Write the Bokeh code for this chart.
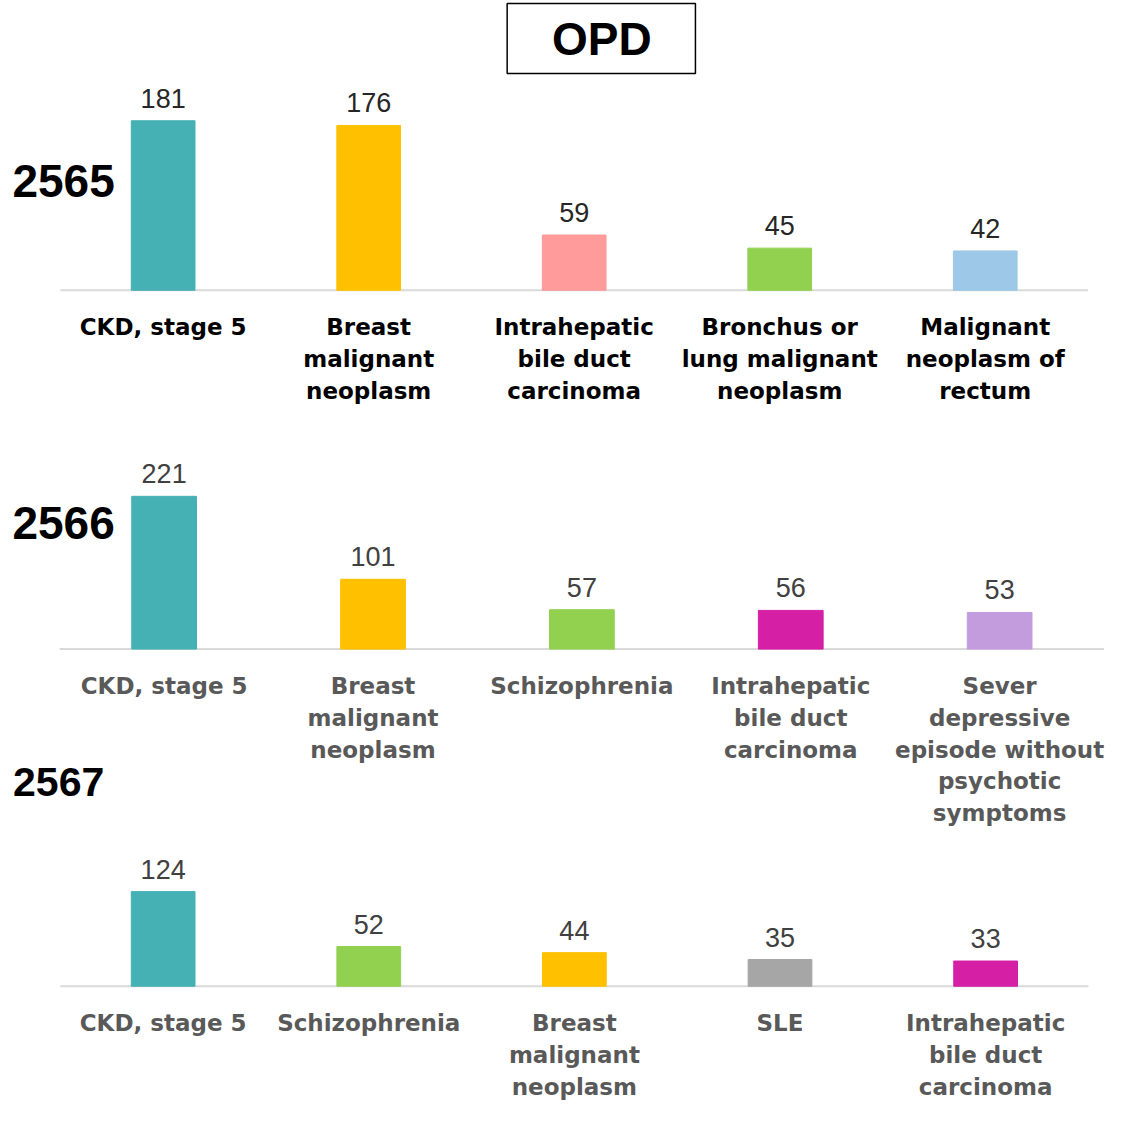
from bokeh.plotting import figure
from bokeh.models import Range1d, ColumnDataSource
from bokeh.core.properties import value
from bokeh.embed import file_html
from bokeh.resources import INLINE

# ---------------- data ----------------
title_text = "OPD"
years = ["2565", "2566", "2567"]

cats_2565 = ["CKD, stage 5", "Breast\nmalignant\nneoplasm", "Intrahepatic\nbile duct\ncarcinoma",
             "Bronchus or\nlung malignant\nneoplasm", "Malignant\nneoplasm of\nrectum"]
vals_2565 = [181, 176, 59, 45, 42]
colors_2565 = ["#46B1B5", "#FFC000", "#FF9B9B", "#92D050", "#9DC8E8"]

cats_2566 = ["CKD, stage 5", "Breast\nmalignant\nneoplasm", "Schizophrenia",
             "Intrahepatic\nbile duct\ncarcinoma", "Sever\ndepressive\nepisode without\npsychotic\nsymptoms"]
vals_2566 = [221, 101, 57, 56, 53]
colors_2566 = ["#46B1B5", "#FFC000", "#92D050", "#D51FA4", "#C39CDD"]

cats_2567 = ["CKD, stage 5", "Schizophrenia", "Breast\nmalignant\nneoplasm", "SLE",
             "Intrahepatic\nbile duct\ncarcinoma"]
vals_2567 = [124, 52, 44, 35, 33]
colors_2567 = ["#46B1B5", "#92D050", "#FFC000", "#A6A6A6", "#D51FA4"]

# ---------------- layout (reference pixel space) ----------------
REF = 1121.0
W = H = 1105

p = figure(width=W, height=H, output_backend="svg", toolbar_location=None,
           x_range=Range1d(0, REF), y_range=Range1d(REF, 0),
           x_axis_type=None, y_axis_type=None, min_border=0)
p.xgrid.visible = False
p.ygrid.visible = False
p.outline_line_color = None
p.background_fill_color = "white"
p.border_fill_color = "white"


def panel_ranges(yb, ytop, vmax, c0, d):
    f0 = (REF - yb) / REF
    f1 = (REF - ytop) / REF
    ylen = vmax / (f1 - f0)
    yr = Range1d(-f0 * ylen, -f0 * ylen + ylen)
    xlen = REF / d
    xr = Range1d(-c0 / d, -c0 / d + xlen)
    return xr, yr


panels = [
    dict(cats=cats_2565, vals=vals_2565, colors=colors_2565, yb=294, ytop=122, c0=165, d=208.5,
         num_color="#262626", cat_color="#000000"),
    dict(cats=cats_2566, vals=vals_2566, colors=colors_2566, yb=658, ytop=503, c0=166, d=211.9,
         num_color="#404040", cat_color="#595959"),
    dict(cats=cats_2567, vals=vals_2567, colors=colors_2567, yb=1000, ytop=904, c0=165, d=208.6,
         num_color="#404040", cat_color="#595959"),
]

for k, pn in enumerate(panels):
    xr, yr = panel_ranges(pn["yb"], pn["ytop"], max(pn["vals"]), pn["c0"], pn["d"])
    xn, yn = f"x{k}", f"y{k}"
    p.extra_x_ranges[xn] = xr
    p.extra_y_ranges[yn] = yr
    n = len(pn["vals"])
    src = ColumnDataSource(dict(x=list(range(n)), top=pn["vals"], color=pn["colors"],
                                cat=pn["cats"], lab=[str(v) for v in pn["vals"]],
                                zero=[0] * n))
    # baseline
    p.segment(x0=[-0.5], y0=[0], x1=[n - 0.5], y1=[0], line_color="#D9D9D9", line_width=2,
              x_range_name=xn, y_range_name=yn)
    p.vbar(x="x", top="top", bottom=0, width=0.31, fill_color="color", line_color="color",
           source=src, x_range_name=xn, y_range_name=yn)
    p.text(x="x", y="top", text="lab", source=src, x_range_name=xn, y_range_name=yn,
           text_align="center", text_baseline="bottom", y_offset=-13,
           text_font=value("Liberation Sans"), text_font_size="27px",
           text_color=pn["num_color"])
    p.text(x="x", y="zero", text="cat", source=src, x_range_name=xn, y_range_name=yn,
           text_align="center", text_baseline="top", y_offset=24,
           text_font=value("DejaVu Sans"), text_font_style="bold", text_font_size="23px",
           text_line_height=1.22, text_color=pn["cat_color"])

# year labels
p.text(x=[64, 64], y=[183, 530], text=years[:2], text_align="center", text_baseline="middle",
       text_font=value("Liberation Sans"), text_font_style="bold", text_font_size="46px",
       text_color="black")
p.text(x=[59], y=[793], text=years[2:], text_align="center", text_baseline="middle",
       text_font=value("Liberation Sans"), text_font_style="bold", text_font_size="41px",
       text_color="black")

# title box
p.quad(left=[514], right=[705], top=[3], bottom=[74], fill_color="white",
       line_color="black", line_width=1.5)
p.text(x=[610], y=[39], text=[title_text], text_align="center", text_baseline="middle",
       text_font=value("Liberation Sans"), text_font_style="bold", text_font_size="46px",
       text_color="black")

open("out.html", "w").write(file_html(p, INLINE))
